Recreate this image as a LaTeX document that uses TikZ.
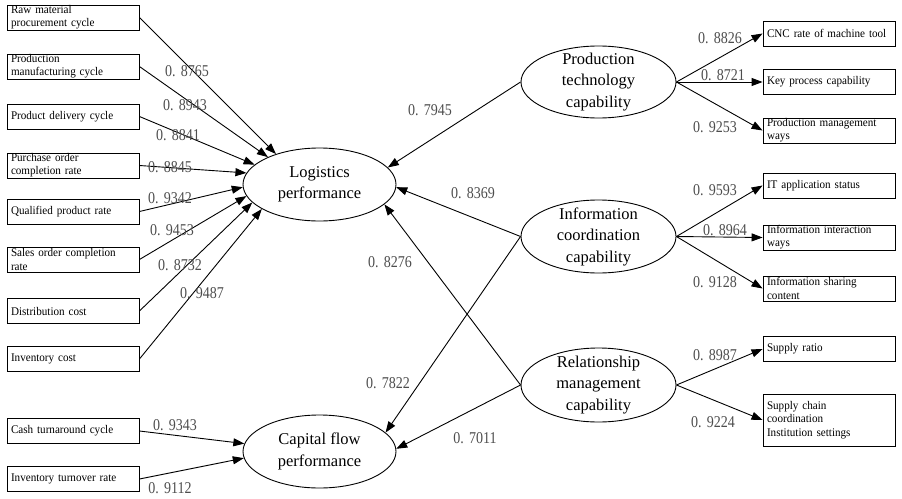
\documentclass[tikz,border=0pt]{standalone}
\usepackage{fontspec}
\setmainfont{Liberation Serif}
\newfontfamily\numfont[FakeStretch=0.85]{Liberation Serif}
\newfontfamily\boxfont[FakeStretch=0.95]{Liberation Serif}
\usetikzlibrary{arrows.meta,shapes.geometric}
\definecolor{lblgray}{HTML}{4D4D4D}
\newcommand\val[1]{0.\hspace{0.32em}#1}
\tikzset{
  ind/.style={draw, line width=0.9pt, minimum width=132pt, minimum height=25pt,
    text width=124pt, inner xsep=4pt, inner ysep=0pt, align=left,
    font=\boxfont\fontsize{11.7}{13.2}\selectfont},
  lat/.style={draw, ellipse, line width=0.9pt, inner sep=0pt},
  lattext/.style={align=center, inner sep=0pt, font=\fontsize{16.5}{21.5}\selectfont},
  lbl/.style={text=lblgray, font=\numfont\fontsize{16.5}{18}\selectfont, inner sep=0pt},
  arr/.style={-{Triangle[length=11pt,width=8pt]}, line width=0.9pt},
}
\begin{document}
\begin{tikzpicture}[x=1pt,y=-1pt]
\useasboundingbox (0,0) rectangle (902,498);
% left indicator boxes
\node[ind] (b1) at (73,17.5) {Raw material\\procurement cycle};
\node[ind] (b2) at (73,66.5) {Production\\manufacturing cycle};
\node[ind] (b3) at (73,116.5) {Product delivery cycle};
\node[ind] (b4) at (73,165.5) {Purchase order\\completion rate};
\node[ind] (b5) at (73,211.5) {Qualified product rate};
\node[ind] (b6) at (73,259.5) {Sales order completion\\rate};
\node[ind] (b7) at (73,311) {Distribution cost};
\node[ind] (b8) at (73,359) {Inventory cost};
\node[ind] (b9) at (73,431) {Cash turnaround cycle};
\node[ind] (b10) at (73,479) {Inventory turnover rate};
% right indicator boxes
\node[ind] (r1) at (829,33.5) {CNC rate of machine tool};
\node[ind] (r2) at (829,82) {Key process capability};
\node[ind] (r3) at (829,130.5) {Production management\\ways};
\node[ind] (r4) at (829,185.5) {IT application status};
\node[ind] (r5) at (829,237.5) {Information interaction\\ways};
\node[ind] (r6) at (829,288.5) {Information sharing\\content};
\node[ind] (r7) at (829,349) {Supply ratio};
\node[ind, minimum height=52pt] (r8) at (829,420) {Supply chain\\coordination\\Institution settings};
% latent variables
\node[lat, minimum width=153pt, minimum height=73pt] (L) at (319.5,184.5) {};
\node[lattext] (Lt) at (L) {Logistics\\performance};
\node[lat, minimum width=153pt, minimum height=73pt] (C) at (319.5,451.5) {};
\node[lattext] (Ct) at (C) {Capital flow\\performance};
\node[lat, minimum width=155pt, minimum height=72pt] (P) at (598.5,82) {};
\node[lattext] (Pt) at (P) {Production\\technology\\capability};
\node[lat, minimum width=155pt, minimum height=73pt] (I) at (598.5,236.5) {};
\node[lattext] (It) at (I) {Information\\coordination\\capability};
\node[lat, minimum width=155pt, minimum height=74pt] (R) at (598.5,385) {};
\node[lattext] (Rt) at (R) {Relationship\\management\\capability};
% left arrows
\draw[arr] (b1.east) -- (L.145);
\draw[arr] (b2.east) -- (L.152);
\draw[arr] (b3.east) -- (L.163);
\draw[arr] (b4.east) -- (L.171.5);
\draw[arr] (b5.east) -- (L.182);
\draw[arr] (b6.east) -- (L.189);
\draw[arr] (b7.east) -- (L.195);
\draw[arr] (b8.east) -- (L.203);
\draw[arr] (b9.east) -- (C.174);
\draw[arr] (b10.east) -- (C.185);
% structural arrows
\draw[arr] (P.west) -- (L.14);
\draw[arr] (I.west) -- (L.-2);
\draw[arr] (R.west) -- (L.-17.4);
\draw[arr] (I.west) -- (C.16);
\draw[arr] (R.west) -- (C.2.6);
% right arrows
\draw[arr] (P.east) -- (r1.west);
\draw[arr] (P.east) -- (r2.west);
\draw[arr] (P.east) -- (r3.west);
\draw[arr] (I.east) -- (r4.west);
\draw[arr] (I.east) -- (r5.west);
\draw[arr] (I.east) -- (r6.west);
\draw[arr] (R.east) -- (r7.west);
\draw[arr] (R.east) -- (r8.west);
% labels
\node[lbl] (v1) at (187,71) {\val{8765}};
\node[lbl] (v2) at (185,105) {\val{8943}};
\node[lbl] (v3) at (178,135) {\val{8841}};
\node[lbl] (v4) at (170,167) {\val{8845}};
\node[lbl] (v5) at (170,198) {\val{9342}};
\node[lbl] (v6) at (172,230) {\val{9453}};
\node[lbl] (v7) at (180,265) {\val{8732}};
\node[lbl] (v8) at (202,293) {\val{9487}};
\node[lbl] (v9) at (175,425) {\val{9343}};
\node[lbl] (v10) at (170,488) {\val{9112}};
\node[lbl] (v11) at (430,110) {\val{7945}};
\node[lbl] (v12) at (473,193) {\val{8369}};
\node[lbl] (v13) at (390,262) {\val{8276}};
\node[lbl] (v14) at (388,383) {\val{7822}};
\node[lbl] (v15) at (475,438) {\val{7011}};
\node[lbl] (v16) at (720,38) {\val{8826}};
\node[lbl] (v17) at (723,75) {\val{8721}};
\node[lbl] (v18) at (715,127) {\val{9253}};
\node[lbl] (v19) at (715,190) {\val{9593}};
\node[lbl] (v20) at (725,230) {\val{8964}};
\node[lbl] (v21) at (715,282) {\val{9128}};
\node[lbl] (v22) at (715,355) {\val{8987}};
\node[lbl] (v23) at (713,422) {\val{9224}};
\end{tikzpicture}
\end{document}
